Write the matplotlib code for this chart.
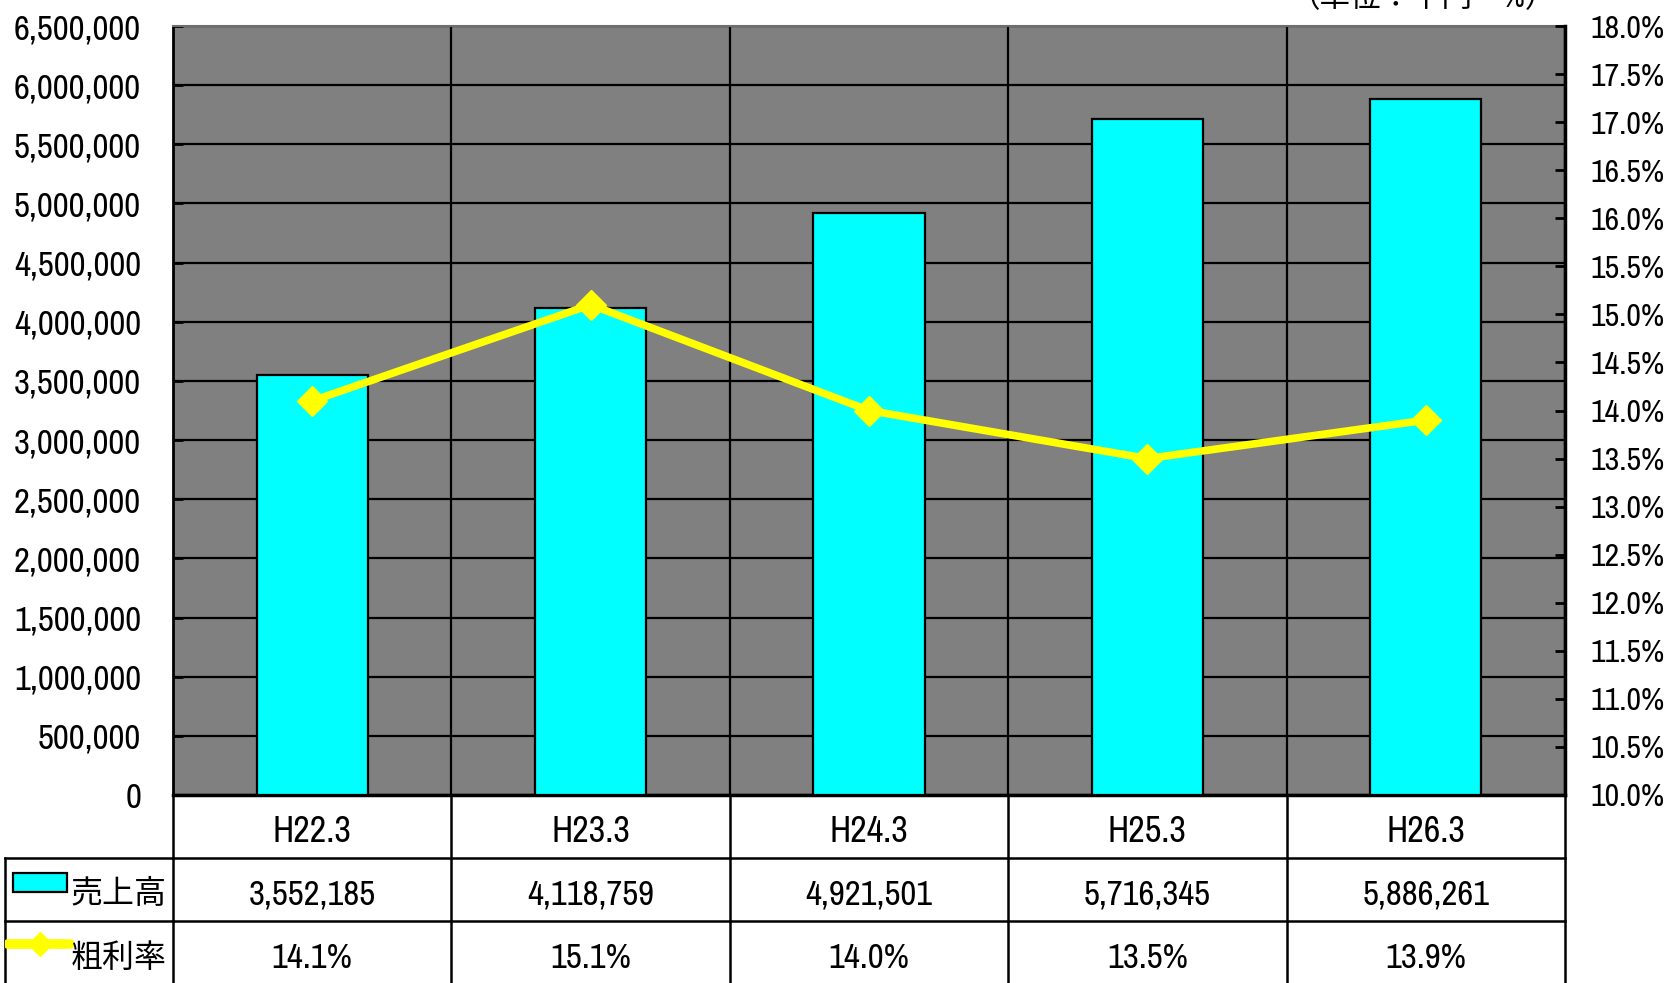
import numpy as np
import matplotlib.pyplot as plt
from matplotlib.patches import Rectangle
from matplotlib.ticker import FuncFormatter, MultipleLocator

# data
categories = ['H22.3', 'H23.3', 'H24.3', 'H25.3', 'H26.3']
sales = [3552185, 4118759, 4921501, 5716345, 5886261]
margin = [14.1, 15.1, 14.0, 13.5, 13.9]
series_names = ['売上高', '粗利率']
unit_label = '（単位：千円・%）'

FONT = ['Archivo Narrow', 'Noto Sans CJK JP', 'DejaVu Sans']
plt.rcParams['font.family'] = FONT

W, H = 1667, 983
fig = plt.figure(figsize=(W / 100, H / 100), dpi=100)

# pixel layout of the plot area
left, right, top, bottom = 173, 1565, 26, 795
row_h = 63

def px_box(x0, x1, y0, y1):
    return [x0 / W, 1 - y1 / H, (x1 - x0) / W, (y1 - y0) / H]

ax = fig.add_axes(px_box(left, right, top, bottom))
x = np.arange(len(categories))

ax.set_facecolor('#808080')
ax.bar(x, sales, width=0.4, color='#00FFFF', edgecolor='black', linewidth=1.6, zorder=3)
ax.set_xlim(-0.5, len(categories) - 0.5)
ax.set_ylim(0, 6500000)
ax.yaxis.set_major_locator(MultipleLocator(500000))
ax.yaxis.set_major_formatter(FuncFormatter(lambda v, p: f'{int(v):,}'))
ax.set_xticks(np.arange(len(categories) + 1) - 0.5)
ax.set_xticklabels([])
ax.grid(True, color='black', linewidth=1.6, zorder=1)
ax.set_axisbelow(True)
ax.tick_params(axis='y', direction='in', length=7, width=2, labelsize=25, pad=23)
ax.tick_params(axis='x', length=0)
for s in ['left', 'bottom', 'right']:
    ax.spines[s].set_color('black')
ax.spines['left'].set_linewidth(2)
ax.spines['bottom'].set_linewidth(2.5)
ax.spines['top'].set_color('#6e6e6e')
ax.spines['top'].set_linewidth(1.5)

ax2 = ax.twinx()
ax2.plot(x, margin, color='#FFFF00', linewidth=5.5, marker='D', markersize=15,
         markeredgecolor='#FFFF00', zorder=5)
ax2.set_ylim(10, 18)
ax2.yaxis.set_major_locator(MultipleLocator(0.5))
ax2.yaxis.set_major_formatter(FuncFormatter(lambda v, p: f'{v:.1f}%'))
ax2.tick_params(axis='y', direction='in', length=7, width=2, labelsize=23, pad=18)
ax2.spines['right'].set_linewidth(2.5)
ax2.spines['right'].set_color('black')
for s in ['left', 'top', 'bottom']:
    ax2.spines[s].set_visible(False)

# data table under the plot
tab = fig.add_axes(px_box(left, right, bottom, bottom + 3 * row_h))
tab.set_xlim(-0.5, len(categories) - 0.5)
tab.set_ylim(3, 0)
tab.axis('off')
for i in range(len(categories) + 1):
    tab.plot([i - 0.5, i - 0.5], [0, 3], color='black', lw=1.8, clip_on=False)
for r in [1, 2, 3]:
    tab.plot([-0.5, len(categories) - 0.5], [r, r], color='black', lw=1.8, clip_on=False)
for i, c in enumerate(categories):
    tab.text(i, 0.58, c, ha='center', va='center', fontsize=26)
    tab.text(i, 1.58, f'{sales[i]:,}', ha='center', va='center', fontsize=25)
    tab.text(i, 2.58, f'{margin[i]:.1f}%', ha='center', va='center', fontsize=25)

# legend column
leg = fig.add_axes(px_box(5, left, bottom, bottom + 3 * row_h))
leg.set_xlim(0, 1)
leg.set_ylim(3, 0)
leg.axis('off')
leg.plot([0, 0], [1, 3], color='black', lw=1.8, clip_on=False)
for r in [1, 2, 3]:
    leg.plot([0, 1], [r, r], color='black', lw=1.8, clip_on=False)
leg.add_patch(Rectangle((0.048, 1.24), 0.32, 0.3, facecolor='#00FFFF',
                        edgecolor='black', lw=1.6))
leg.plot([0.02, 0.385], [2.36, 2.36], color='#FFFF00', lw=7, solid_capstyle='round')
leg.plot([0.21], [2.36], marker='D', color='#FFFF00', markersize=12)
leg.text(0.39, 1.55, series_names[0], ha='left', va='center', fontsize=23)
leg.text(0.39, 2.58, series_names[1], ha='left', va='center', fontsize=23)

fig.text(1423 / W, 1 - 12 / H, unit_label, ha='center', va='bottom', fontsize=22)

fig.savefig('out.png', dpi=100)
